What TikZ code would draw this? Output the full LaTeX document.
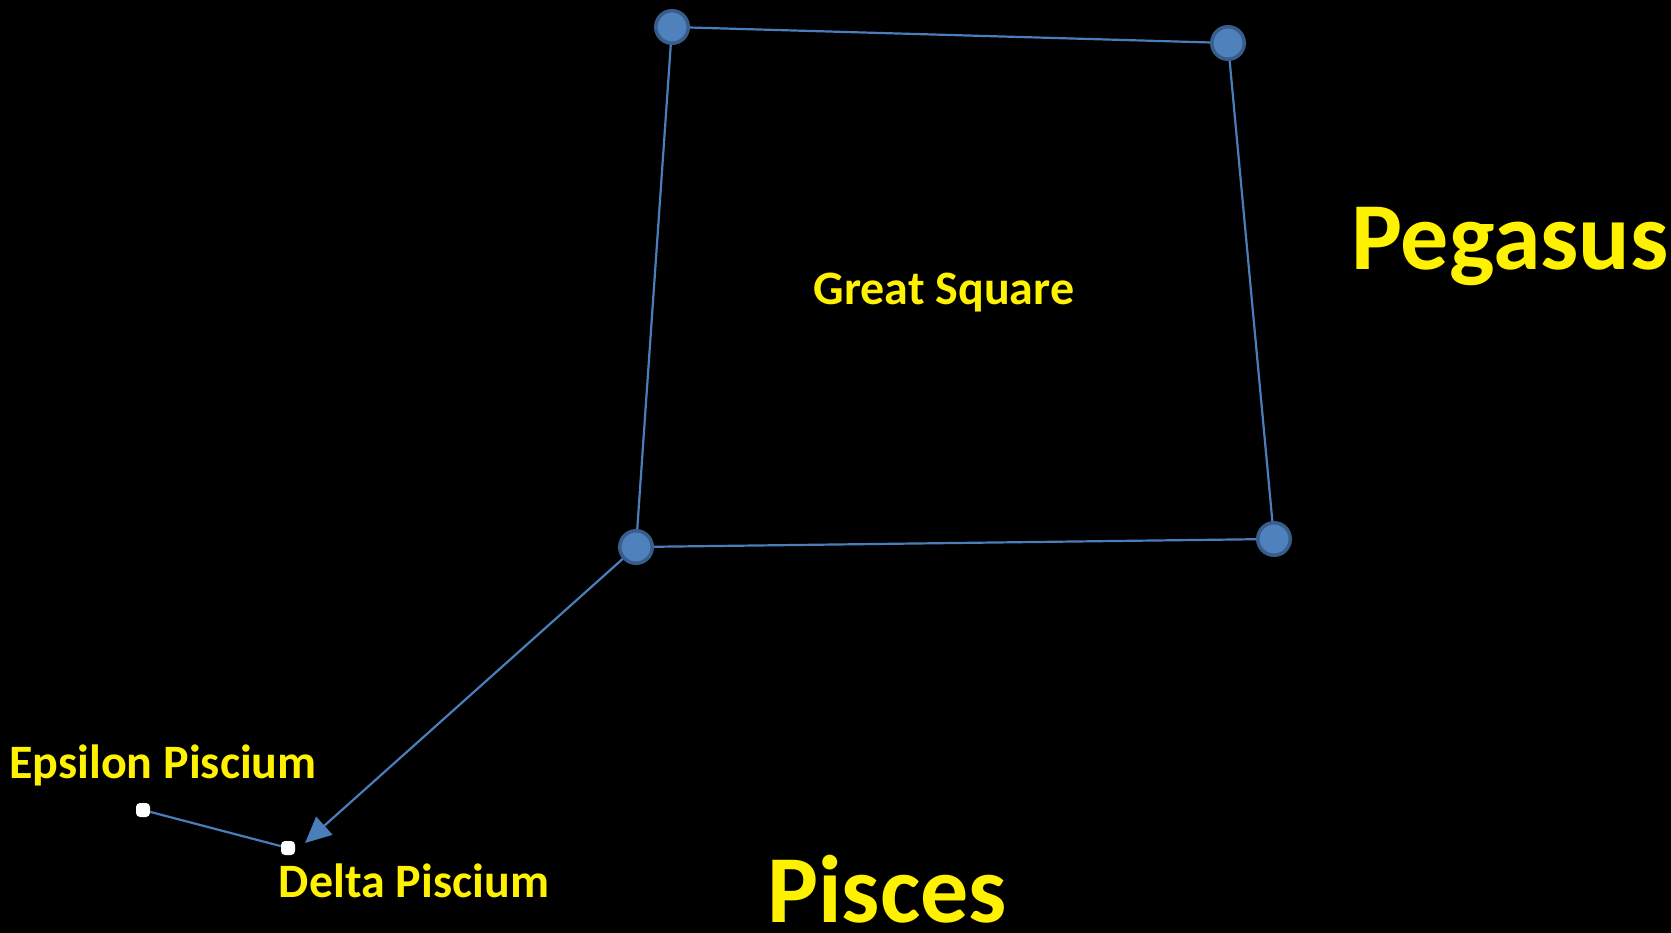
\documentclass[tikz,border=0pt]{standalone}
\usepackage{fontspec}
\setmainfont{Carlito}
\usetikzlibrary{arrows.meta,positioning}
\definecolor{starblue}{HTML}{4F81BD}
\definecolor{starring}{HTML}{385D8A}
\definecolor{lineblue}{HTML}{4A7EBB}
\tikzset{
    bigstar/.style={circle,fill=starblue,draw=starring,line width=3.5pt,inner sep=0pt,minimum size=32.5pt},
    smallstar/.style={rectangle,rounded corners=4pt,fill=white,inner sep=0pt,minimum width=14pt,minimum height=14pt},
    myedge/.style={line width=2.2pt,draw=lineblue},
    mylabel/.style={text=yellow,font=\bfseries\fontsize{48}{52}\selectfont,anchor=base,inner sep=0pt},
    biglabel/.style={text=yellow,font=\bfseries\fontsize{96}{100}\selectfont,anchor=base,inner sep=0pt}
}

\begin{document}
\begin{tikzpicture}[x=1pt,y=-1pt]
  \fill[black] (0,0) rectangle (1671,933);
  \useasboundingbox (0,0) rectangle (1671,933);

  \node[bigstar] (NW) at (672,27) {};
  \node[bigstar] (NE) at (1228,43) {};
  \node[bigstar] (SE) at (1274,539) {};
  \node[bigstar] (SW) at (636,547) {};
  \node[smallstar] (eps) at (143,810) {};
  \node[smallstar] (del) at (288,848) {};
  \coordinate (tip) at (305,843);

  \draw[myedge] (NW)--(NE)--(SE)--(SW)--(NW);
  \draw[myedge] (eps)--(del);
  \draw[myedge,-{Triangle[length=26pt,width=24pt]},fill=lineblue] (SW)--(tip);

  \node[mylabel] (gsq) at (944,305) {Great Square};
  \node[biglabel] (peg) at (1510,270) {Pegasus};
  \node[biglabel] (pis) at (887,922) {Pisces};
  \node[mylabel] (epsl) at (163,778) {Epsilon Piscium};
  \node[mylabel] (dell) at (414,897) {Delta Piscium};
\end{tikzpicture}
\end{document}
